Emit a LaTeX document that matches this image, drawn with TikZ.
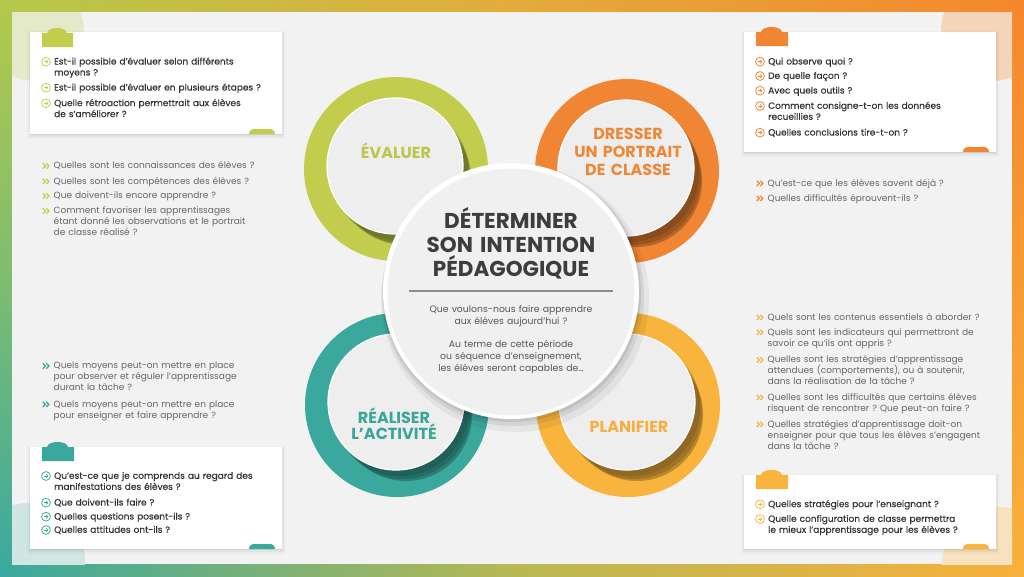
\documentclass[tikz,border=0pt]{standalone}
\usepackage{fontspec}
\setmainfont{Poppins}
\newfontfamily\medfont[FakeBold=0.35]{Poppins}
\frenchspacing
\usetikzlibrary{calc,arrows.meta}
\definecolor{cgreen}{HTML}{C3CD4D}
\definecolor{corange}{HTML}{F08533}
\definecolor{cteal}{HTML}{3AA89C}
\definecolor{cyellow}{HTML}{F8B43C}
\definecolor{lgreen}{HTML}{BCC64A}
\definecolor{lorange}{HTML}{EE8838}
\definecolor{lteal}{HTML}{3AA599}
\definecolor{lyellow}{HTML}{F5B042}
\definecolor{panel}{HTML}{F2F2F2}
\definecolor{txtdark}{HTML}{333333}
\definecolor{txtgray}{HTML}{666666}
\definecolor{discfill}{HTML}{EEEEEE}
\definecolor{corefill}{HTML}{F0F0F0}
\definecolor{fgA}{HTML}{B4C94B}
\definecolor{fgB}{HTML}{E3AC39}
\definecolor{fgC}{HTML}{F5872D}
\definecolor{fgD}{HTML}{39A99F}
\definecolor{fgE}{HTML}{B7B853}
\definecolor{fgF}{HTML}{F8B13B}
\definecolor{fgG}{HTML}{7CBC72}
\definecolor{fgH}{HTML}{F79C34}
\definecolor{pgreen}{HTML}{E4E9C9}
\definecolor{porange}{HTML}{F5D5BA}
\definecolor{pteal}{HTML}{CFE6E2}
\definecolor{pyellow}{HTML}{F7E2BF}
\tikzset{
  qtext/.style={font=\medfont\fontsize{9}{11}\selectfont, text=txtdark, inner sep=0pt,
    text width=260pt, align=left, anchor=base west},
  stext/.style={qtext, font=\fontsize{9}{11}\selectfont, text=txtgray},
  cbul/.style={circle, draw=#1, line width=0.75pt, minimum size=8.8pt, inner sep=0pt,
    path picture={\draw[#1, line width=0.75pt, -{Straight Barb[length=1.6pt,width=3.3pt]}]
      ([xshift=-2.3pt]path picture bounding box.center) --
      ([xshift=2.4pt]path picture bounding box.center);}},
  chev/.style={inner sep=0pt, minimum width=8pt, minimum height=8pt,
    path picture={
      \draw[#1, line width=1.25pt]
        ([xshift=0.8pt,yshift=2.6pt]path picture bounding box.west) --
        ([xshift=3.4pt]path picture bounding box.west) --
        ([xshift=0.8pt,yshift=-2.6pt]path picture bounding box.west);
      \draw[#1, line width=1.25pt]
        ([xshift=4.3pt,yshift=2.6pt]path picture bounding box.west) --
        ([xshift=6.9pt]path picture bounding box.west) --
        ([xshift=4.3pt,yshift=-2.6pt]path picture bounding box.west);}},
  card/.style={fill=white, inner sep=0pt, draw=none,
    preaction={draw=black, line width=6pt, opacity=0.025, transform canvas={yshift=-2pt}},
    preaction={draw=black, line width=3pt, opacity=0.04, transform canvas={yshift=-1.5pt}},
    preaction={fill=black, opacity=0.08, transform canvas={yshift=-1.2pt}}},
  satdisc/.style={circle, minimum size=136pt, inner sep=0pt, fill=discfill,
    draw=white, line width=1.2pt},
  lbl/.style={font=\fontsize{16}{18}\selectfont\bfseries, inner sep=0pt,
    text width=160pt, align=center, anchor=base},
}
\newcommand{\qi}[5]{%
  \node[cbul=#2] (#1b) at (#3,#4) {};
  \node[qtext] (#1) at (#3+8,#4+2.8) {#5};}
\newcommand{\si}[5]{%
  \node[chev=#2] (#1b) at (#3,#4) {};
  \node[stext] (#1) at (#3+7.5,#4+2.8) {#5};}
\newcommand{\toptab}[4]{%
  \fill[#1] (#2,#3+14) -- (#2,#3) -- ({#2+5},#3)
    .. controls ({#2+6},#3-6.7) and ({#4-7},#3-6.7) .. ({#4-6},#3)
    -- (#4,#3) -- (#4,#3+14) -- cycle;}
\newcommand{\bottab}[4]{%
  \fill[#1, rounded corners=1.5pt] (#2,#3) -- ({#2+3.5},#3-5) -- ({#4-3.5},#3-5) -- (#4,#3) -- cycle;}
\newcommand{\satellite}[4]{%
  \fill[#4] (#2,#3) circle (92pt);
  \fill[black,opacity=0.10] (#2+3,#3+2) circle (69pt);
  \fill[black,opacity=0.15] (#2+6,#3+6) circle (68pt);
  \fill[black,opacity=0.24] (#2+9,#3+10) circle (66pt);
  \node[satdisc] (#1) at (#2-1,#3-3) {};}
\begin{document}
\begin{tikzpicture}[x=1pt,y=-1pt]
\useasboundingbox (0,0) rectangle (1024,576);
% frame
\shade[top color=fgA, bottom color=fgD, middle color=fgG] (0,0) rectangle (12,576);
\shade[top color=fgC, bottom color=fgF, middle color=fgH] (1012,0) rectangle (1024,576);
\shade[left color=fgA, right color=fgC, middle color=fgB] (0,0) rectangle (1024,12);
\shade[left color=fgD, right color=fgF, middle color=fgE] (0,564) rectangle (1024,576);
\fill[panel] (12,12) rectangle (1012,564);
\begin{scope}
  \clip (12,12) rectangle (1012,564);
  \fill[pgreen] (35,32) circle (49pt);
  \fill[porange] (992,30) circle (51pt);
  \fill[pteal] (28,560) circle (57pt);
  \fill[pyellow] (1000,565) circle (58pt);
\end{scope}
% cards
\node[card, minimum width=252pt, minimum height=102pt] (cardTL) at (156,83) {};
\node[card, minimum width=252pt, minimum height=120pt] (cardTR) at (870,92) {};
\node[card, minimum width=252pt, minimum height=102pt] (cardBL) at (156,498) {};
\node[card, minimum width=252pt, minimum height=74pt] (cardBR) at (870,512) {};
\toptab{cgreen}{42}{33}{73}
\bottab{cgreen}{248}{134}{276}
\toptab{corange}{756}{32}{788}
\bottab{corange}{962}{152}{990}
\toptab{cteal}{42}{447}{74}
\bottab{cteal}{248}{549}{276}
\toptab{cyellow}{756}{475}{788}
\bottab{cyellow}{962}{549}{990}
% card items
\qi{tl1}{cgreen}{46}{61.7}{Est-il possible d’évaluer selon différents\\moyens ?}
\qi{tl2}{cgreen}{46}{87.7}{Est-il possible d’évaluer en plusieurs étapes ?}
\qi{tl3}{cgreen}{46}{103.3}{Quelle rétroaction permettrait aux élèves\\de s’améliorer ?}
\qi{tr1}{corange}{760}{61.7}{Qui observe quoi ?}
\qi{tr2}{corange}{760}{76}{De quelle façon ?}
\qi{tr3}{corange}{760}{90.7}{Avec quels outils ?}
\qi{tr4}{corange}{760}{106}{Comment consigne-t-on les données\\recueillies ?}
\qi{tr5}{corange}{760}{132.7}{Quelles conclusions tire-t-on ?}
\qi{bl1}{cteal}{46}{476}{Qu’est-ce que je comprends au regard des\\manifestations des élèves ?}
\qi{bl2}{cteal}{46}{502.7}{Que doivent-ils faire ?}
\qi{bl3}{cteal}{46}{516.7}{Quelles questions posent-ils ?}
\qi{bl4}{cteal}{46}{530}{Quelles attitudes ont-ils ?}
\qi{br1}{cyellow}{760}{504.3}{Quelles stratégies pour l’enseignant ?}
\qi{br2}{cyellow}{760}{519}{Quelle configuration de classe permettra\\le mieux l’apprentissage pour les élèves ?}
% side lists
\si{lm1}{cgreen}{46}{166}{Quelles sont les connaissances des élèves ?}
\si{lm2}{cgreen}{46}{181.3}{Quelles sont les compétences des élèves ?}
\si{lm3}{cgreen}{46}{196}{Que doivent-ils encore apprendre ?}
\si{lm4}{cgreen}{46}{211}{Comment favoriser les apprentissages\\étant donné les observations et le portrait\\de classe réalisé ?}
\si{rt1}{corange}{760}{183.3}{Qu’est-ce que les élèves savent déjà ?}
\si{rt2}{corange}{760}{198.3}{Quelles difficultés éprouvent-ils ?}
\si{rl1}{cyellow}{760}{317.3}{Quels sont les contenus essentiels à aborder ?}
\si{rl2}{cyellow}{760}{332.3}{Quels sont les indicateurs qui permettront de\\savoir ce qu’ils ont appris ?}
\si{rl3}{cyellow}{760}{360}{Quelles sont les stratégies d’apprentissage\\attendues (comportements), ou à soutenir,\\dans la réalisation de la tâche ?}
\si{rl4}{cyellow}{760}{397.3}{Quelles sont les difficultés que certains élèves\\risquent de rencontrer ? Que peut-on faire ?}
\si{rl5}{cyellow}{760}{424.3}{Quelles stratégies d’apprentissage doit-on\\enseigner pour que tous les élèves s’engagent\\dans la tâche ?}
\si{ll1}{cteal}{46}{366}{Quels moyens peut-on mettre en place\\pour observer et réguler l’apprentissage\\durant la tâche ?}
\si{ll2}{cteal}{46}{404.3}{Quels moyens peut-on mettre en place\\pour enseigner et faire apprendre ?}
% satellites
\satellite{sEV}{396}{169}{cgreen}
\satellite{sDR}{627}{171}{corange}
\satellite{sRE}{397}{405}{cteal}
\satellite{sPL}{628}{405}{cyellow}
\node[lbl, text=lgreen] (lEV) at (396,158.3) {ÉVALUER};
\node[lbl, text=lorange, font=\fontsize{16}{17.9}\selectfont\bfseries] (lDR) at (628,139.4) {DRESSER\\UN PORTRAIT\\DE CLASSE};
\node[lbl, text=lteal, font=\fontsize{16}{16.5}\selectfont\bfseries] (lRE) at (394,423.1) {RÉALISER\\L’ACTIVITÉ};
\node[lbl, text=lyellow] (lPL) at (629,432.9) {PLANIFIER};
% central disc
\fill[black,opacity=0.05] (515,298) circle (134pt);
\fill[black,opacity=0.07] (513,295) circle (131pt);
\fill[black,opacity=0.08] (512,293) circle (129pt);
\node[circle, minimum size=256pt, fill=white, inner sep=0pt] (cwhite) at (511,291) {};
\node[circle, minimum size=247pt, fill=corefill, inner sep=0pt] (core) at (511,292) {};
\node[font=\fontsize{21.5}{24}\selectfont\bfseries, text=txtdark!95!white, inner sep=0pt,
  text width=240pt, align=center, anchor=base] (title) at (511,228.5)
  {DÉTERMINER\\SON INTENTION\\PÉDAGOGIQUE};
\coordinate (divL) at (409,291);
\coordinate (divR) at (613,291);
\draw[black!45, line width=1.3pt] (divL) -- (divR);
\node[font=\fontsize{9.3}{12.4}\selectfont, text=txtgray!85!black, inner sep=0pt,
  text width=240pt, align=center, anchor=base] (sub1) at (511,312)
  {Que voulons-nous faire apprendre\\aux élèves aujourd’hui ?};
\node[font=\fontsize{9.3}{12}\selectfont, text=txtgray!85!black, inner sep=0pt,
  text width=240pt, align=center, anchor=base] (sub2) at (511,347.8)
  {Au terme de cette période\\ou séquence d’enseignement,\\les élèves seront capables de…};
\end{tikzpicture}
\end{document}
